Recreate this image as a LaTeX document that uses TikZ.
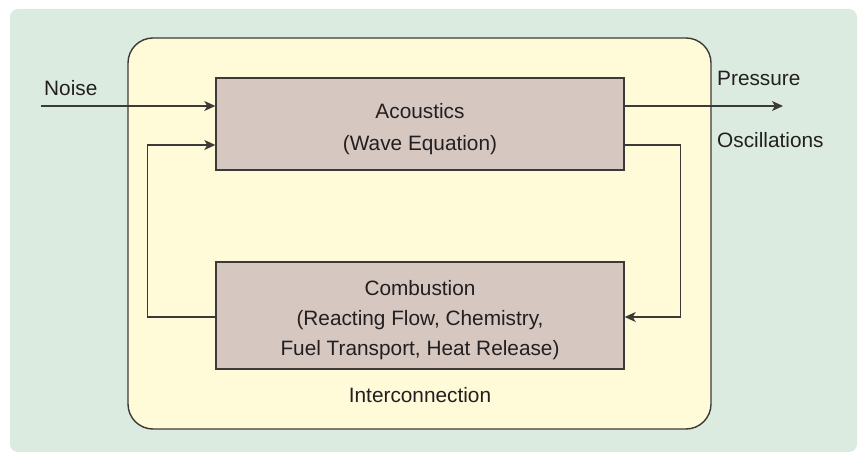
\documentclass[tikz,border=0pt]{standalone}
\usepackage{fontspec}
\setmainfont{Liberation Sans}
\usetikzlibrary{arrows.meta,calc}

\definecolor{bggreen}{HTML}{DCEBDF}
\definecolor{panel}{HTML}{FFFAD7}
\definecolor{blockfill}{HTML}{D6C8C0}
\definecolor{ink}{HTML}{231F20}
\definecolor{edge}{HTML}{3C3A38}

\tikzset{
  txt/.style={font=\fontsize{20.8bp}{31bp}\selectfont, text=ink, inner sep=0pt, align=center},
  block/.style={draw=edge, line width=1.4bp, fill=blockfill, inner sep=0pt,
                minimum width=408bp},
  link/.style={draw=edge, line width=1.3bp},
  flow/.style={link, -{Stealth[length=11bp,width=10bp,inset=3bp]}},
}

\begin{document}
\begin{tikzpicture}[x=1bp,y=-1bp]
  \useasboundingbox (0,0) rectangle (859,452);

  % backdrop and interconnection panel
  \fill[bggreen, rounded corners=8bp] (10,9) rectangle (857,452);
  \draw[fill=panel, draw=edge, line width=1.4bp, rounded corners=25bp]
    (128,38) rectangle (711,429);

  % subsystem blocks
  \node[block, minimum height=92bp] (acou) at (420,124) {};
  \node[block, minimum height=107bp] (comb) at (420,315.5) {};

  % block captions (anchored on the baseline of their last line)
  \node[txt, font=\fontsize{20.8bp}{31.7bp}\selectfont, anchor=base] (acoutxt) at (420,150.7)
    {Acoustics\\(Wave Equation)};
  \node[txt, font=\fontsize{20.8bp}{29.8bp}\selectfont, anchor=base] (combtxt) at (420,355.3)
    {Combustion\\(Reacting Flow, Chemistry,\\Fuel Transport, Heat Release)};

  \node[txt, anchor=base] (inter) at (420,402.5) {Interconnection};

  % external input and output
  \coordinate (noise) at (41,106);
  \coordinate (press) at (783,106);
  \node[txt, anchor=base west] (noiselbl) at (44,96) {Noise};
  \node[txt, anchor=base west] (presslbl) at (717,86) {Pressure};
  \node[txt, anchor=base west] (osclbl) at (717,147.5) {Oscillations};

  \draw[flow] (noise) -- (noise -| acou.west);
  \draw[flow] (press -| acou.east) -- (press);

  % feedback loop between the two blocks
  \coordinate (aL) at ($(acou.west)+(0,21)$);
  \coordinate (aR) at ($(acou.east)+(0,21)$);
  \coordinate (cL) at ($(comb.west)+(0,1.5)$);
  \coordinate (cR) at ($(comb.east)+(0,1.5)$);
  \draw[flow] (cL) -- ++(-68,0) |- (aL);
  \draw[flow] (aR) -- ++(56,0) |- (cR);
\end{tikzpicture}
\end{document}
